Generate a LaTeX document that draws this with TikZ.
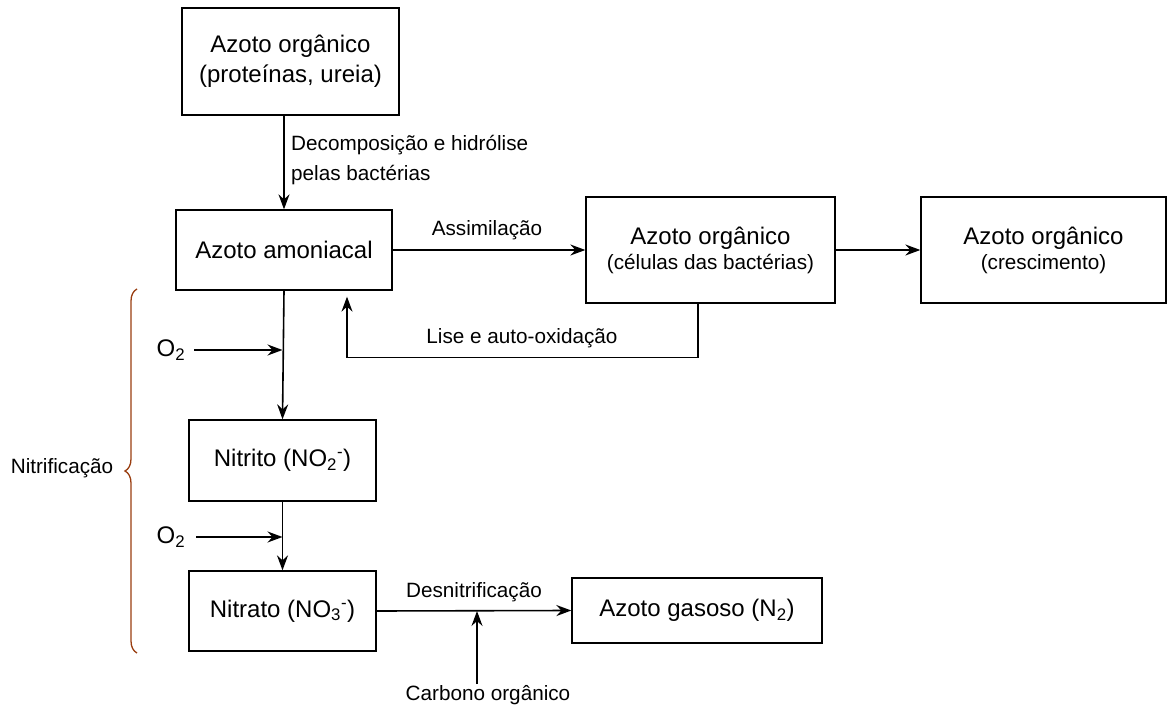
\documentclass[tikz,border=0pt]{standalone}
\usepackage{fontspec}
\setmainfont{Liberation Sans}
\usepackage{tikz}
\usetikzlibrary{arrows.meta,decorations.pathreplacing}
\definecolor{ink}{HTML}{000000}
\definecolor{bracec}{HTML}{993D10}
\tikzset{
  box/.style={draw=ink, line width=1.3pt, align=center, inner sep=2pt, font=\fontsize{24}{30}\selectfont},
  lab/.style={text=ink, inner sep=1pt, font=\fontsize{20.7}{30}\selectfont},
  big/.style={text=ink, inner sep=1pt, font=\fontsize{24}{30}\selectfont},
  arr/.style={draw=ink, line width=1.6pt, -{Stealth[length=15pt,width=11pt,inset=5pt]}},
  nbrace/.style={draw=bracec, line width=1.3pt, decorate, decoration={brace, amplitude=12pt}}
}

\begin{document}
\begin{tikzpicture}[x=1pt,y=-1pt]
  \useasboundingbox (0,0) rectangle (1168,711);

  % main chain
  \node[box, minimum width=217, minimum height=107] (org) at (290.5,61.5) {Azoto orgânico\\(proteínas, ureia)};
  \node[box, minimum width=216, minimum height=80] (amon) at (284,250) {Azoto amoniacal};
  \node[box, minimum width=187, minimum height=81] (nitrito) at (282.5,460.5) {Nitrito (NO\textsubscript{2}\textsuperscript{-})};
  \node[box, minimum width=187, minimum height=80] (nitrato) at (282.5,611) {Nitrato (NO\textsubscript{3}\textsuperscript{-})};

  % right side
  \node[box, minimum width=249, minimum height=106] (cel) at (710.5,250) {Azoto orgânico\\[-5pt]{\fontsize{20.7}{25}\selectfont (células das bactérias)}};
  \node[box, minimum width=245, minimum height=106] (cresc) at (1043.5,250) {Azoto orgânico\\[-5pt]{\fontsize{20.7}{25}\selectfont (crescimento)}};
  \node[box, minimum width=250, minimum height=65] (gas) at (697,610.5) {Azoto gasoso (N\textsubscript{2})};

  % labels
  \node[lab, align=left, anchor=west] (declab) at (290,160) {Decomposição e hidrólise\\pelas bactérias};
  \node[lab] (assim) at (487,230) {Assimilação};
  \node[lab] (lise) at (522,338) {Lise e auto-oxidação};
  \node[lab] (desn) at (474,592) {Desnitrificação};
  \node[lab] (carb) at (488,695) {Carbono orgânico};
  \node[lab] (nitrif) at (62,468) {Nitrificação};
  \node[big] (o2a) at (171,350) {O\textsubscript{2}};
  \node[big] (o2b) at (171,537) {O\textsubscript{2}};
  \coordinate (dn) at (477,611);

  % arrows
  \draw[arr] (org.south -| amon.north) -- (amon.north);
  \draw[arr] (amon.east) -- (cel.west);
  \draw[arr] (cel.east) -- (cresc.west);
  \draw[arr, shorten >=6pt] ([xshift=-12.5pt]cel.south) -- ++(0,54) -| ([xshift=63pt]amon.south);
  \draw[arr] (amon.south) -- (nitrito.north);
  \draw[arr] (nitrito.south) -- (nitrato.north);
  \draw[arr] ([xshift=8pt]o2a.east) -- (o2a -| nitrito.north);
  \draw[arr] ([xshift=10pt]o2b.east) -- (o2b -| nitrato.north);
  \draw[arr] (nitrato.east) -- (gas.west);
  \draw[arr] (carb.north -| dn) -- (dn);

  \draw[nbrace] (137,653) -- (137,289);
\end{tikzpicture}
\end{document}
